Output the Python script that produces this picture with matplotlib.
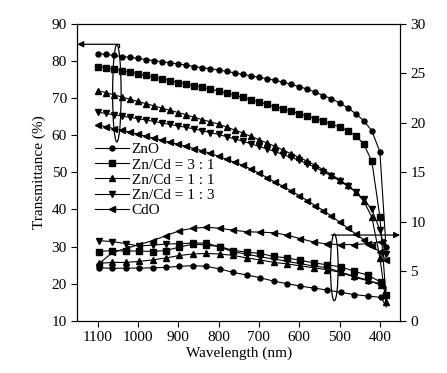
import matplotlib.pyplot as plt
from matplotlib.patches import Ellipse

plt.rcParams['font.family'] = ['Liberation Serif', 'DejaVu Serif']
plt.rcParams['font.size'] = 11

# transmittance (left axis), 20 nm steps
wl_T = [1100, 1080, 1060, 1040, 1020, 1000, 980, 960, 940, 920,
        900, 880, 860, 840, 820, 800, 780, 760, 740, 720,
        700, 680, 660, 640, 620, 600, 580, 560, 540, 520,
        500, 480, 460, 440, 420, 400, 385]

T_zno = [82.0, 81.8, 81.5, 81.2, 81.0, 80.7, 80.4, 80.1, 79.8, 79.5,
         79.2, 78.9, 78.5, 78.2, 77.9, 77.6, 77.2, 76.8, 76.4, 76.0,
         75.6, 75.2, 74.8, 74.3, 73.7, 73.1, 72.4, 71.6, 70.7, 69.8,
         68.7, 67.4, 65.8, 63.9, 61.2, 55.5, 30.0]
T_31 = [78.5, 78.2, 77.8, 77.4, 77.0, 76.5, 76.1, 75.6, 75.2, 74.7,
        74.2, 73.8, 73.3, 72.9, 72.4, 71.9, 71.3, 70.8, 70.2, 69.6,
        69.0, 68.3, 67.7, 67.1, 66.5, 65.8, 65.2, 64.5, 63.8, 63.0,
        62.2, 61.2, 59.9, 57.6, 53.0, 38.0, 17.0]
T_11 = [72.0, 71.5, 70.9, 70.3, 69.7, 69.1, 68.5, 67.9, 67.3, 66.7,
        66.1, 65.5, 64.8, 64.2, 63.6, 63.0, 62.2, 61.4, 60.6, 59.7,
        58.8, 57.9, 57.0, 56.0, 55.0, 54.0, 53.0, 51.9, 50.7, 49.4,
        48.0, 46.5, 44.8, 42.2, 38.0, 27.0, 15.0]
T_13 = [66.2, 65.9, 65.5, 65.2, 64.8, 64.5, 64.1, 63.7, 63.3, 62.9,
        62.5, 62.1, 61.7, 61.2, 60.7, 60.2, 59.6, 59.0, 58.4, 57.7,
        57.0, 56.3, 55.6, 54.8, 54.0, 53.2, 52.3, 51.3, 50.2, 49.0,
        47.7, 46.3, 44.7, 42.7, 40.0, 34.5, 28.0]
T_cdo = [62.8, 62.3, 61.8, 61.3, 60.8, 60.3, 59.7, 59.2, 58.6, 58.1,
         57.5, 57.0, 56.4, 55.8, 55.1, 54.3, 53.5, 52.7, 51.9, 50.9,
         49.8, 48.6, 47.4, 46.2, 45.0, 43.7, 42.4, 41.0, 39.7, 38.2,
         36.6, 35.0, 33.4, 31.8, 30.2, 28.5, 26.5]

# lower curves (right axis), last point has no marker
wl_R = [1097, 1063, 1030, 997, 963, 930, 897, 863, 830, 797,
        763, 730, 697, 663, 630, 597, 563, 530, 497, 463,
        430, 397, 384]

R_zno = [5.35, 5.30, 5.32, 5.32, 5.35, 5.40, 5.50, 5.57, 5.50, 5.24,
         4.88, 4.63, 4.35, 4.00, 3.75, 3.50, 3.30, 3.10, 2.87, 2.64,
         2.50, 2.36, 1.4]
R_31 = [7.0, 7.1, 7.05, 7.05, 7.0, 7.1, 7.45, 7.75, 7.65, 7.5,
        7.1, 6.95, 6.8, 6.5, 6.35, 6.1, 5.85, 5.65, 5.45, 5.0,
        4.6, 3.9, 3.3]
R_11 = [5.8, 5.9, 5.9, 6.0, 6.15, 6.35, 6.6, 6.75, 6.8, 6.75,
        6.6, 6.35, 6.15, 5.9, 5.75, 5.55, 5.35, 5.15, 4.9, 4.5,
        4.1, 3.6, 3.1]
R_13 = [8.1, 8.0, 7.8, 7.55, 7.65, 7.75, 7.8, 7.85, 7.85, 7.45,
        6.95, 6.75, 6.45, 6.25, 6.0, 5.77, 5.52, 5.37, 4.9, 4.4,
        4.05, 3.72, 3.4]
R_cdo = [5.75, 6.9, 7.3, 7.7, 8.1, 8.6, 9.1, 9.35, 9.45, 9.35,
         9.15, 9.0, 8.95, 8.9, 8.65, 8.3, 7.95, 7.75, 7.7, 7.7,
         7.8, 8.0, 8.1]

labels = ['ZnO', 'Zn/Cd = 3 : 1', 'Zn/Cd = 1 : 1', 'Zn/Cd = 1 : 3', 'CdO']
markers = ['o', 's', '^', 'v', '<']
msizes = [3.6, 4.3, 4.3, 4.3, 4.0]

fig = plt.figure(figsize=(4.47, 3.73), dpi=100)
ax = fig.add_axes([0.173, 0.140, 0.722, 0.796])
ax2 = ax.twinx()

lines = []
for ys, m, ms, lab in zip([T_zno, T_31, T_11, T_13, T_cdo], markers, msizes, labels):
    l, = ax.plot(wl_T, ys, color='black', lw=0.8, marker=m, ms=ms, label=lab)
    lines.append(l)
for ys, m, ms in zip([R_zno, R_31, R_11, R_13, R_cdo], markers, msizes):
    ax2.plot(wl_R, ys, color='black', lw=0.8, marker=m, ms=ms,
             markevery=list(range(len(ys) - 1)))

ax.set_xlim(1150, 350)
ax.set_ylim(10, 90)
ax2.set_ylim(0, 30)
ax.set_xticks([1100, 1000, 900, 800, 700, 600, 500, 400])
ax.set_yticks(range(10, 91, 10))
ax2.set_yticks(range(0, 31, 5))
ax.tick_params(direction='out', length=4, width=0.8)
ax2.tick_params(direction='out', length=4, width=0.8)
ax.set_xlabel('Wavelength (nm)', labelpad=2)
ax.set_ylabel('Transmittance (%)', labelpad=4)

# ellipse markers with arrows pointing to the axis they belong to
ax.add_patch(Ellipse((1052, 71.3), 21, 26.2, fill=False, lw=0.9, color='black'))
ax.annotate('', xy=(1150, 84.5), xytext=(1047, 84.5),
            arrowprops=dict(arrowstyle='-|>', color='black', lw=0.9,
                            mutation_scale=9, shrinkA=0, shrinkB=0))
ax.plot([1047, 1047], [84.5, 83.8], color='black', lw=0.9)
ax.add_patch(Ellipse((513, 24.4), 19, 18, fill=False, lw=0.9, color='black'))
ax.annotate('', xy=(350, 33.1), xytext=(520, 33.1),
            arrowprops=dict(arrowstyle='-|>', color='black', lw=0.9,
                            mutation_scale=9, shrinkA=0, shrinkB=0))

ax.legend(handles=lines, loc='upper left', bbox_to_anchor=(0.055, 0.60),
          frameon=False, handlelength=2.2, handletextpad=0.2,
          labelspacing=0.1, borderpad=0, borderaxespad=0)

fig.savefig('out.png', dpi=100)
